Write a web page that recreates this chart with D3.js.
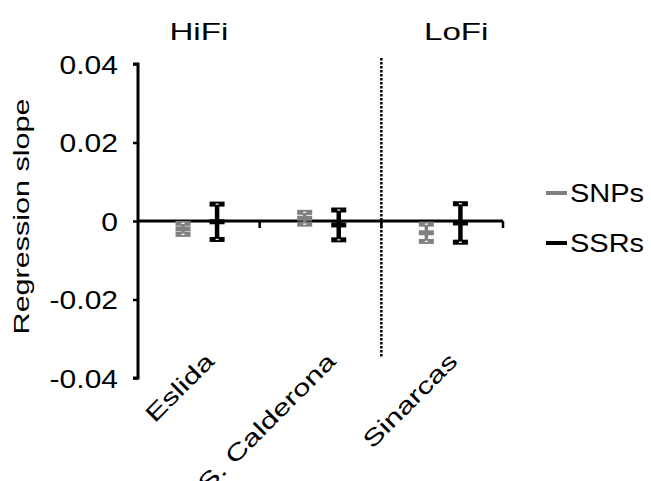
<!DOCTYPE html>
<html>
<head>
<meta charset="utf-8">
<script src="https://cdn.jsdelivr.net/npm/d3@7/dist/d3.min.js"></script>
<style>
  html, body { margin: 0; padding: 0; background: #fff; }
  svg { display: block; }
  text { font-family: "Liberation Sans", Arial, sans-serif; fill: #000; }
</style>
</head>
<body>
<svg id="chart" width="651" height="481"></svg>
<script>
// Regression slopes per population, with error bars, for two marker types
const categories = ["Eslida", "S. Calderona", "Sinarcas"];
const groupLabels = ["HiFi", "LoFi"];
const seriesNames = ["SNPs", "SSRs"];
const snpMean = [-0.002, 0.0007, -0.003];
const snpErr = [0.0014, 0.0015, 0.0022];
const ssrMean = [-0.0002, -0.001, -0.0005];
const ssrErr = [0.0045, 0.0038, 0.0049];
const yTicks = [-0.04, -0.02, 0, 0.02, 0.04];
const yTickLabels = ["-0.04", "-0.02", "0", "0.02", "0.04"];
const seriesColors = ["#808080", "#000000"];

const series = [
  { name: seriesNames[0], mean: snpMean, err: snpErr, color: seriesColors[0], stem: 3.5 },
  { name: seriesNames[1], mean: ssrMean, err: ssrErr, color: seriesColors[1], stem: 4.5 }
];

const svg = d3.select("#chart");

const x = d3.scaleBand().domain(categories).range([138, 503]).padding(0);
const bw = x.bandwidth();
const xSub = d3.scalePoint().domain(seriesNames).range([0.37 * bw, 0.65 * bw]);
const y = d3.scaleLinear().domain([-0.04, 0.04]).range([378, 64]);

// Divider between HiFi and LoFi populations
const divX = x("Sinarcas");
svg.append("line")
  .attr("x1", divX).attr("x2", divX)
  .attr("y1", 58).attr("y2", 357)
  .attr("stroke", "#000").attr("stroke-width", 2.5)
  .attr("stroke-dasharray", "2.5,1.5");

// Y axis
const yAxis = svg.append("g")
  .attr("transform", "translate(138,0)")
  .call(d3.axisLeft(y).tickValues(yTicks).tickSize(5)
    .tickFormat((d, i) => yTickLabels[i]));
yAxis.select(".domain").attr("d", `M-5,${y(0.04)}H0V${y(-0.04)}H-5`)
  .attr("stroke-width", 3).attr("fill", "none");
yAxis.selectAll(".tick line").attr("stroke-width", 2.5);
yAxis.selectAll(".tick text")
  .attr("x", 0).attr("dy", "0.36em")
  .attr("font-size", 25)
  .attr("font-family", "Liberation Sans, Arial, sans-serif")
  .attr("transform", "translate(-20,0) scale(1.2,1)");

// X axis at zero with ticks on category boundaries
const bounds = categories.map(c => x(c)).concat([x.range()[1]]);
const y0 = y(0);
svg.append("line")
  .attr("x1", x.range()[0]).attr("x2", x.range()[1])
  .attr("y1", y0).attr("y2", y0)
  .attr("stroke", "#000").attr("stroke-width", 3);
svg.selectAll(".xtick").data(bounds.slice(1)).enter().append("line")
  .attr("class", "xtick")
  .attr("x1", d => d).attr("x2", d => d)
  .attr("y1", y0).attr("y2", y0 + 7)
  .attr("stroke", "#000").attr("stroke-width", 2.5);

// Error bars
const capW = 15, capH = 5;
series.forEach(s => {
  const g = svg.append("g");
  categories.forEach((c, i) => {
    const cx = x(c) + xSub(s.name);
    const m = s.mean[i], e = s.err[i];
    g.append("line")
      .attr("x1", cx).attr("x2", cx)
      .attr("y1", y(m + e)).attr("y2", y(m - e))
      .attr("stroke", s.color).attr("stroke-width", s.stem);
    [m + e, m - e].forEach(v => {
      g.append("rect")
        .attr("x", cx - capW / 2).attr("y", y(v) - capH / 2)
        .attr("width", capW).attr("height", capH)
        .attr("fill", s.color);
      g.append("rect")
        .attr("x", cx - 1.5).attr("y", y(v) - 0.6)
        .attr("width", 3).attr("height", 1.2)
        .attr("fill", "#fff");
    });
    g.append("rect")
      .attr("x", cx - capW / 2).attr("y", y(m) - capH / 2)
      .attr("width", capW).attr("height", capH)
      .attr("fill", s.color);
  });
});

// Category labels, rotated
categories.forEach(c => {
  svg.append("g")
    .attr("transform", `translate(${x(c) + bw / 2 + 5},351) rotate(-45) scale(1.37,1)`)
    .append("text")
    .attr("text-anchor", "end")
    .attr("dy", "0.72em")
    .attr("font-size", 23)
    .text(c);
});

// Group headings
const headX = [x("Eslida") + bw / 2, x("Sinarcas") + bw / 2 + 14];
groupLabels.forEach((t, i) => {
  svg.append("g")
    .attr("transform", `translate(${headX[i]},40) scale(1.38,1)`)
    .append("text")
    .attr("text-anchor", "middle")
    .attr("font-size", 24)
    .text(t);
});

// Y axis title
svg.append("g")
  .attr("transform", `translate(28.5,216.5) rotate(-90) scale(1.42,1)`)
  .append("text")
  .attr("text-anchor", "middle")
  .attr("font-size", 21.5)
  .text("Regression slope");

// Legend
const legY = [193, 243];
series.forEach((s, i) => {
  svg.append("line")
    .attr("x1", 546).attr("x2", 567)
    .attr("y1", legY[i]).attr("y2", legY[i])
    .attr("stroke", s.color).attr("stroke-width", 4);
  svg.append("g")
    .attr("transform", `translate(570,${legY[i]}) scale(1.16,1)`)
    .append("text")
    .attr("dy", "0.36em")
    .attr("font-size", 25)
    .text(s.name);
});
</script>
</body>
</html>
